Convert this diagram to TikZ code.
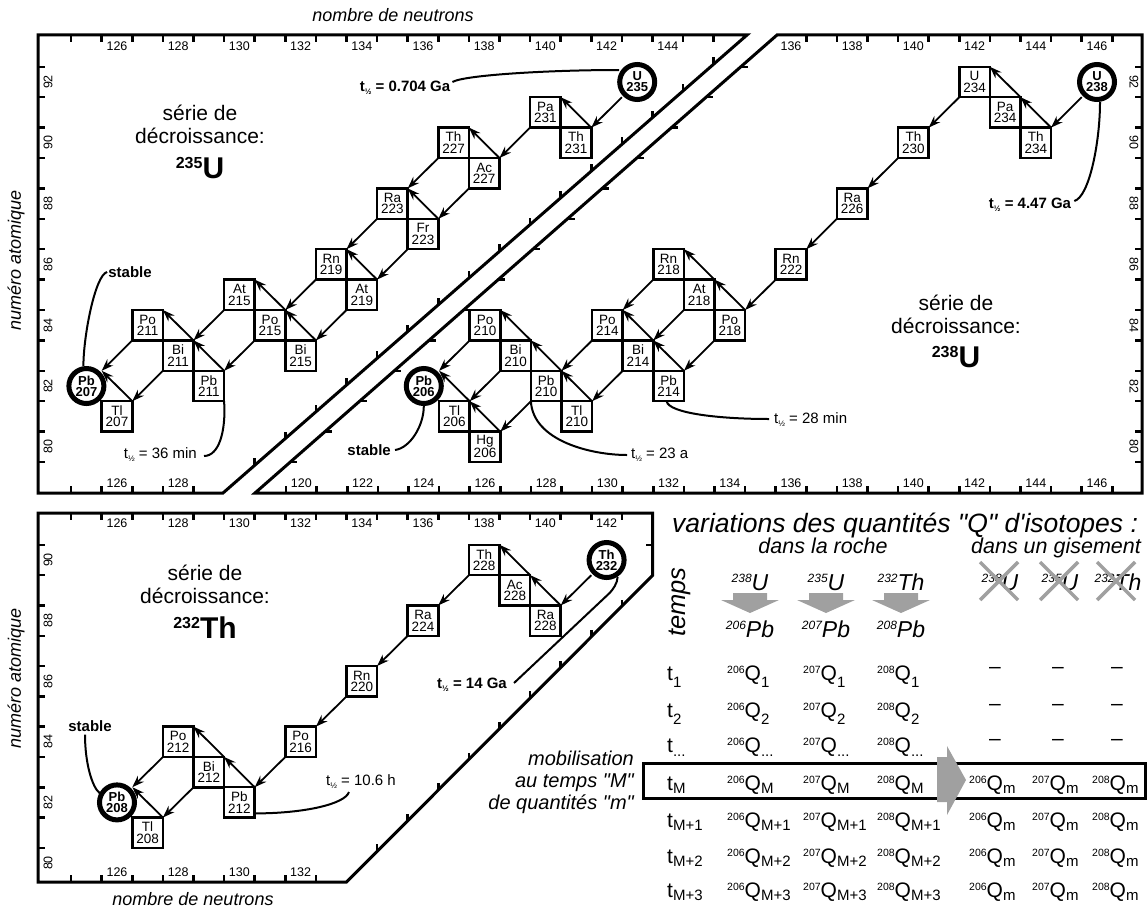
\documentclass[tikz,border=0pt]{standalone}
\usepackage{fontspec}
\setmainfont{Liberation Sans}[Ligatures=TeXOff]
\usetikzlibrary{arrows.meta,calc}
\definecolor{greyc}{RGB}{160,160,160}
\newcommand\fsz[1]{\fontsize{#1}{#1}\selectfont}
\newcommand\thalf{t\raisebox{-3pt}{\fsz{8}½}}
\newcommand\QQ[3]{\raisebox{6.5pt}{\fsz{10.5}#1}Q\raisebox{-#3}{\fsz{15}#2}}
\newcommand\Hd[2]{\raisebox{8pt}{\fsz{12}#1}#2}
\newcommand\LN[5][iso]{\node[#1] (#2) at ({117+(#3-126)*30.6},{82+(92-#4)*30.4}) {#5};}
\newcommand\RN[5][iso]{\node[#1] (#2) at ({1097+(#3-146)*30.6},{82+(92-#4)*30.4}) {#5};}
\newcommand\TN[5][iso]{\node[#1] (#2) at ({117+(#3-126)*30.6},{560+(90-#4)*30.3}) {#5};}
\newcommand\alphaD[2]{\draw[decay] (#1.south west) -- (#2.north east);}
\newcommand\betaD[2]{\draw[decay] (#1.north east) -- (#2.north east);}
\newcommand\trow[4]{%
 \node[tq] (t#1) at (667,#3) {t\raisebox{-#4}{\fsz{15}#2}};
 \node[tq] (qa#1) at (727,#3) {\QQ{206}{#2}{#4}};
 \node[tq] (qb#1) at (803,#3) {\QQ{207}{#2}{#4}};
 \node[tq] (qc#1) at (877,#3) {\QQ{208}{#2}{#4}};}
\newcommand\grow[2]{%
 \node[tq] (ma#1) at (969,#2) {\QQ{206}{m}{3pt}};
 \node[tq] (mb#1) at (1032,#2) {\QQ{207}{m}{3pt}};
 \node[tq] (mc#1) at (1092,#2) {\QQ{208}{m}{3pt}};}
\newcommand\drow[2]{%
 \node[dashtxt] (da#1) at (995,#2) {–};
 \node[dashtxt] (db#1) at (1058,#2) {–};
 \node[dashtxt] (dc#1) at (1117,#2) {–};}
\tikzset{
 frame/.style={line width=3pt, line join=miter},
 tick/.style={line width=2.5pt},
 axl/.style={font=\fsz{12.5}, inner sep=0pt},
 axt/.style={font=\itshape\fsz{18}, inner sep=0pt},
 iso/.style={draw, line width=2.5pt, minimum width=30.6pt, minimum height=30.4pt, inner sep=0pt, outer sep=0pt, align=center, font=\fontsize{13.5}{11.5}\selectfont},
 ring/.style={minimum width=30.6pt, minimum height=30.4pt, inner sep=0pt, outer sep=0pt, align=center, font=\bfseries\fontsize{13}{11}\selectfont},
 ringline/.style={line width=5pt},
 decay/.style={line width=1.8pt, -{Stealth[length=12pt,width=8.5pt,inset=4pt]}},
 lead/.style={line width=2pt},
 hlb/.style={font=\bfseries\fsz{15}, inner sep=1pt},
 hln/.style={font=\fsz{15}, inner sep=1pt},
 ser/.style={anchor=base, font=\fsz{21}, inner sep=0pt},
 serbig/.style={anchor=base, font=\bfseries\fsz{30}, inner sep=0pt},
 tq/.style={anchor=base west, inner sep=0pt, font=\fsz{21}},
 dashtxt/.style={inner sep=0pt, font=\fsz{21}},
 hd/.style={anchor=base, inner sep=0pt, font=\itshape\fsz{23}},
 cross/.style={greyc, line width=3.5pt},
 mob/.style={anchor=base east, inner sep=0pt, font=\itshape\fsz{20}},
}
\begin{document}
\begin{tikzpicture}[x=1pt,y=-1pt]
\useasboundingbox (0,0) rectangle (1147,907);
% ---------------- frames
\draw[frame] (38,35) -- (747,35) -- (223,493) -- (38,493) -- cycle;
\draw[frame] (777,35) -- (1142,35) -- (1142,493) -- (255,493) -- cycle;
\draw[frame] (38,513) -- (652.5,513) -- (652.5,575.5) -- (346.5,882) -- (38,882) -- cycle;
% ---------------- ticks, left chart (235U)
\foreach \m in {124,...,145} \draw[tick] ({117+(\m+0.5-126)*30.6},35) -- ++(0,7);
\foreach \m in {124,...,128} \draw[tick] ({117+(\m+0.5-126)*30.6},493) -- ++(0,-7);
\foreach \z in {79,...,92} \draw[tick] (38,{82+(91.5-\z)*30.4}) -- ++(7,0);
\foreach \m in {130,...,145}{
  \pgfmathsetmacro\tx{117+(\m+0.5-126)*30.6}
  \pgfmathsetmacro\ty{35+(747-\tx)*0.87405}
  \draw[tick] (\tx,\ty) -- ++(0,-7);}
% ---------------- ticks, right chart (238U)
\foreach \m in {136,...,146} \draw[tick] ({1097+(\m+0.5-146)*30.6},35) -- ++(0,7);
\foreach \m in {119,...,146} \draw[tick] ({1097+(\m+0.5-146)*30.6},493) -- ++(0,-7);
\foreach \z in {79,...,92} \draw[tick] (1142,{82+(91.5-\z)*30.4}) -- ++(-7,0);
\foreach \z in {79,...,92}{
  \pgfmathsetmacro\ty{82+(91.5-\z)*30.4}
  \pgfmathsetmacro\tx{777-(\ty-35)*1.13974}
  \draw[tick] (\tx,\ty) -- ++(7,0);}
% ---------------- ticks, thorium chart
\foreach \m in {124,...,142} \draw[tick] ({117+(\m+0.5-126)*30.6},513) -- ++(0,7);
\foreach \m in {124,...,132} \draw[tick] ({117+(\m+0.5-126)*30.6},882) -- ++(0,-7);
\foreach \z in {80,...,90} \draw[tick] (38,{560+(89.5-\z)*30.3}) -- ++(7,0);
\draw[tick] (652.5,544.85) -- ++(-7,0);
\foreach \m in {134,...,142}{
  \pgfmathsetmacro\tx{117+(\m+0.5-126)*30.6}
  \pgfmathsetmacro\ty{882-(\tx-346.5)}
  \draw[tick] (\tx,\ty) -- ++(0,-7);}
% ---------------- axis labels
\foreach \n in {126,128,...,144} \node[axl] (lt\n) at ({117+(\n-126)*30.6},46) {\n};
\foreach \n in {126,128} \node[axl] (lb\n) at ({117+(\n-126)*30.6},483) {\n};
\foreach \n in {136,138,...,146} \node[axl] (rt\n) at ({1097+(\n-146)*30.6},46) {\n};
\foreach \n in {120,122,...,146} \node[axl] (rb\n) at ({1097+(\n-146)*30.6},483) {\n};
\foreach \z in {80,82,...,92} \node[axl,rotate=90] (ll\z) at (48,{82+(92-\z)*30.4}) {\z};
\foreach \z in {80,82,...,92} \node[axl,rotate=-90] (rl\z) at (1134,{82+(92-\z)*30.4}) {\z};
\foreach \n in {126,128,...,142} \node[axl] (tt\n) at ({117+(\n-126)*30.6},523) {\n};
\foreach \n in {126,128,...,132} \node[axl] (tb\n) at ({117+(\n-126)*30.6},872) {\n};
\foreach \z in {80,82,...,90} \node[axl,rotate=90] (tl\z) at (48,{560+(90-\z)*30.3}) {\z};
\node[axt,anchor=base] (xa1) at (393,22) {nombre de neutrons};
\node[axt,anchor=base] (xa2) at (193,905) {nombre de neutrons};
\node[axt,rotate=90] (ya1) at (16,260) {numéro atomique};
\node[axt,rotate=90] (ya2) at (16,678) {numéro atomique};
% ---------------- series titles
\node[ser] (s1a) at (200,120) {série de};
\node[ser] (s1b) at (200,143) {décroissance:};
\node[serbig] (s1c) at (200,178) {\raisebox{10pt}{\fsz{16}235}U};
\node[ser] (s2a) at (956,310) {série de};
\node[ser] (s2b) at (956,333) {décroissance:};
\node[serbig] (s2c) at (956,367) {\raisebox{10pt}{\fsz{16}238}U};
\node[ser] (s3a) at (205,580) {série de};
\node[ser] (s3b) at (205,603) {décroissance:};
\node[serbig] (s3c) at (205,638) {\raisebox{10pt}{\fsz{16}232}Th};
% ---------------- 235U series
\LN[ring]{U235}{143}{92}{U\\235}
\LN{Th231}{141}{90}{Th\\231}
\LN{Pa231}{140}{91}{Pa\\231}
\LN{Ac227}{138}{89}{Ac\\227}
\LN{Th227}{137}{90}{Th\\227}
\LN{Fr223}{136}{87}{Fr\\223}
\LN{Ra223}{135}{88}{Ra\\223}
\LN{At219}{134}{85}{At\\219}
\LN{Rn219}{133}{86}{Rn\\219}
\LN{Bi215}{132}{83}{Bi\\215}
\LN{Po215}{131}{84}{Po\\215}
\LN{At215}{130}{85}{At\\215}
\LN{Pb211}{129}{82}{Pb\\211}
\LN{Bi211}{128}{83}{Bi\\211}
\LN{Po211}{127}{84}{Po\\211}
\LN{Tl207}{126}{81}{Tl\\207}
\LN[ring]{Pb207}{125}{82}{Pb\\207}
% ---------------- 238U series
\RN[ring]{U238}{146}{92}{U\\238}
\RN{Th234}{144}{90}{Th\\234}
\RN{Pa234}{143}{91}{Pa\\234}
\RN{U234}{142}{92}{U\\234}
\RN{Th230}{140}{90}{Th\\230}
\RN{Ra226}{138}{88}{Ra\\226}
\RN{Rn222}{136}{86}{Rn\\222}
\RN{Po218}{134}{84}{Po\\218}
\RN{At218}{133}{85}{At\\218}
\RN{Rn218}{132}{86}{Rn\\218}
\RN{Pb214}{132}{82}{Pb\\214}
\RN{Bi214}{131}{83}{Bi\\214}
\RN{Po214}{130}{84}{Po\\214}
\RN{Tl210}{129}{81}{Tl\\210}
\RN{Pb210}{128}{82}{Pb\\210}
\RN{Bi210}{127}{83}{Bi\\210}
\RN{Po210}{126}{84}{Po\\210}
\RN{Hg206}{126}{80}{Hg\\206}
\RN{Tl206}{125}{81}{Tl\\206}
\RN[ring]{Pb206}{124}{82}{Pb\\206}
% ---------------- 232Th series
\TN[ring]{Th232}{142}{90}{Th\\232}
\TN{Ra228}{140}{88}{Ra\\228}
\TN{Ac228}{139}{89}{Ac\\228}
\TN{Th228}{138}{90}{Th\\228}
\TN{Ra224}{136}{88}{Ra\\224}
\TN{Rn220}{134}{86}{Rn\\220}
\TN{Po216}{132}{84}{Po\\216}
\TN{Pb212}{130}{82}{Pb\\212}
\TN{Bi212}{129}{83}{Bi\\212}
\TN{Po212}{128}{84}{Po\\212}
\TN{Tl208}{127}{81}{Tl\\208}
\TN[ring]{Pb208}{126}{82}{Pb\\208}
\foreach \n in {U235,U238,Pb207,Pb206,Th232,Pb208} \draw[ringline] (\n.center) circle[radius=17.5pt];
% ---------------- decays 235U
\alphaD{U235}{Th231} \betaD{Th231}{Pa231} \alphaD{Pa231}{Ac227} \betaD{Ac227}{Th227}
\alphaD{Ac227}{Fr223} \alphaD{Th227}{Ra223} \betaD{Fr223}{Ra223} \alphaD{Ra223}{Rn219}
\alphaD{Fr223}{At219} \betaD{At219}{Rn219} \alphaD{Rn219}{Po215} \alphaD{At219}{Bi215}
\betaD{Bi215}{Po215} \betaD{Po215}{At215} \alphaD{Po215}{Pb211} \alphaD{At215}{Bi211}
\betaD{Pb211}{Bi211} \betaD{Bi211}{Po211} \alphaD{Bi211}{Tl207} \alphaD{Po211}{Pb207}
\betaD{Tl207}{Pb207}
% ---------------- decays 238U
\alphaD{U238}{Th234} \betaD{Th234}{Pa234} \betaD{Pa234}{U234} \alphaD{U234}{Th230}
\alphaD{Th230}{Ra226} \alphaD{Ra226}{Rn222} \alphaD{Rn222}{Po218} \alphaD{Po218}{Pb214}
\betaD{Po218}{At218} \alphaD{At218}{Bi214} \betaD{At218}{Rn218} \alphaD{Rn218}{Po214}
\betaD{Pb214}{Bi214} \betaD{Bi214}{Po214} \alphaD{Bi214}{Tl210} \alphaD{Po214}{Pb210}
\betaD{Tl210}{Pb210} \betaD{Pb210}{Bi210} \alphaD{Pb210}{Hg206} \betaD{Bi210}{Po210}
\alphaD{Bi210}{Tl206} \betaD{Hg206}{Tl206} \alphaD{Po210}{Pb206} \betaD{Tl206}{Pb206}
% ---------------- decays 232Th
\alphaD{Th232}{Ra228} \betaD{Ra228}{Ac228} \betaD{Ac228}{Th228} \alphaD{Th228}{Ra224}
\alphaD{Ra224}{Rn220} \alphaD{Rn220}{Po216} \alphaD{Po216}{Pb212} \betaD{Pb212}{Bi212}
\betaD{Bi212}{Po212} \alphaD{Bi212}{Tl208} \alphaD{Po212}{Pb208} \betaD{Tl208}{Pb208}
% ---------------- half-lives and stable labels
\node[hlb] (h0704) at (405,88) {\thalf{} = 0.704 Ga};
\node[hlb] (h447) at (1030,205) {\thalf{} = 4.47 Ga};
\node[hlb] (h14) at (472,685) {\thalf{} = 14 Ga};
\node[hln,anchor=east] (h36) at (198,455) {\thalf{} = 36 min};
\node[hln,anchor=west] (h23) at (630,455) {\thalf{} = 23 a};
\node[hln,anchor=west] (h28) at (773,420) {\thalf{} = 28 min};
\node[hln,anchor=west] (h106) at (325,782) {\thalf{} = 10.6 h};
\node[hlb] (st1) at (130,272) {stable};
\node[hlb,anchor=east] (st2) at (392,450) {stable};
\node[hlb] (st3) at (90,726) {stable};
\draw[lead] ($(h0704.east)+(1,-6)$) .. controls +(12,-7) and +(-70,0) .. ($(U235.center)+(-18,-12)$);
\draw[lead] ($(h447.east)+(2,-4)$) .. controls +(15,-4) and +(0,40) .. ($(U238.center)+(3,20)$);
\draw[lead] (st1.west) .. controls +(-12,3) and +(0,-30) .. ($(Pb207.center)+(-3,-20)$);
\draw[lead] (Pb211.south east) .. controls +(2,30) and +(15,0) .. ($(h36.east)+(6,1)$);
\draw[lead] ($(st2.east)+(3,0)$) .. controls +(15,-2) and +(0,20) .. ($(Pb206.center)+(0,20)$);
\draw[lead] (Pb210.south west) .. controls +(2,40) and +(-35,0) .. ($(h23.west)+(-3,0)$);
\draw[lead] ($(Pb214.south)+(-2,0)$) .. controls +(2,12) and +(-50,0) .. ($(h28.west)+(-4,-1)$);
\draw[lead] ($(h14.east)+(6,-2)$) -- ($(Th232.center)+(3,33)$) .. controls +(3,-3) and +(0,6) .. ($(Th232.center)+(11,17)$);
\draw[lead] ($(Pb212.east)+(0,11)$) .. controls +(50,0) and +(-4,12) .. ($(h106.west)+(24,10)$);
\draw[lead] ($(st3.south)+(-5,2)$) .. controls +(0,28) and +(-8,-6) .. ($(Pb208.center)+(-17,-9)$);
% ---------------- table
\node[anchor=base west, inner sep=0pt, font=\itshape\fsz{26.5}] (title) at (672,532) {variations des quantités "Q" d'isotopes :};
\node[anchor=base, inner sep=0pt, font=\itshape\fsz{21.5}] (roche) at (823,553) {dans la roche};
\node[anchor=base, inner sep=0pt, font=\itshape\fsz{21.5}] (gis) at (1056,553) {dans un gisement};
\node[rotate=90, inner sep=0pt, font=\itshape\fsz{25.5}] (temps) at (680,602) {temps};
\node[hd] (ha) at (750,590) {\Hd{238}{U}};
\node[hd] (hb) at (826,590) {\Hd{235}{U}};
\node[hd] (hc) at (901,590) {\Hd{232}{Th}};
\node[hd] (pa) at (750,637) {\Hd{206}{Pb}};
\node[hd] (pb) at (826,637) {\Hd{207}{Pb}};
\node[hd] (pc) at (901,637) {\Hd{208}{Pb}};
\foreach \cx in {750,826,901}
  \fill[greyc] (\cx-17,593) -- (\cx+17,593) -- (\cx+17,600) -- (\cx+29,600) -- (\cx,613) -- (\cx-29,600) -- (\cx-17,600) -- cycle;
\node[hd] (ga) at (1000,590) {\Hd{238}{U}};
\node[hd] (gb) at (1060,590) {\Hd{235}{U}};
\node[hd] (gc) at (1118,590) {\Hd{232}{Th}};
\foreach \cx in {999,1059,1116}{
  \draw[cross] (\cx-19,562) -- (\cx+19,600);
  \draw[cross] (\cx-19,600) -- (\cx+19,562);}
\trow{1}{1}{680}{7pt}
\trow{2}{2}{717}{7pt}
\trow{3}{...}{752}{4pt}
\trow{4}{M}{790}{3pt}
\trow{5}{M+1}{827}{3pt}
\trow{6}{M+2}{863}{3pt}
\trow{7}{M+3}{897}{3pt}
\drow{1}{670}
\drow{2}{707}
\drow{3}{742}
\grow{4}{790}
\grow{5}{827}
\grow{6}{863}
\grow{7}{897}
\draw[line width=3pt] (643,763) rectangle (1145,798);
\fill[greyc] (937,757) -- (947,757) -- (947,746) -- (966,780) -- (947,815) -- (947,802) -- (937,802) -- cycle;
\node[mob] (mo1) at (634,765) {mobilisation};
\node[mob] (mo2) at (634,787) {au temps "M"};
\node[mob] (mo3) at (634,809) {de quantités "m"};
\end{tikzpicture}
\end{document}
